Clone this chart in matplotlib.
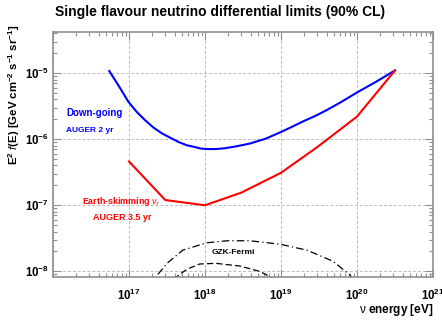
import matplotlib
matplotlib.use('Agg')
import matplotlib.pyplot as plt
from matplotlib.ticker import LogLocator, NullFormatter, FuncFormatter
import numpy as np

plt.rcParams['font.family'] = ['Liberation Sans', 'DejaVu Sans']
plt.rcParams['mathtext.fontset'] = 'custom'
plt.rcParams['mathtext.rm'] = 'Liberation Sans'
plt.rcParams['mathtext.bf'] = 'Liberation Sans:bold'
plt.rcParams['mathtext.it'] = 'Liberation Sans:italic'

# ---- data ----
down_E = [5.5e16, 7.4e16, 9.8e16, 1.26e17, 1.62e17, 2.1e17, 2.7e17, 3.5e17,
          4.47e17, 5.75e17, 7.4e17, 8.9e17, 1.1e18, 1.4e18, 1.82e18, 2.5e18,
          3.2e18, 3.9e18, 6.3e18, 1.02e19, 1.41e19, 1.95e19, 2.8e19, 3.98e19,
          6.3e19, 1.0e20, 1.78e20, 3.16e20]
down_F = [1.08e-5, 6.3e-6, 3.7e-6, 2.6e-6, 1.95e-6, 1.5e-6, 1.23e-6, 1.05e-6,
          9.1e-7, 8.1e-7, 7.6e-7, 7.2e-7, 7.1e-7, 7.1e-7, 7.3e-7, 7.75e-7,
          8.2e-7, 8.6e-7, 1.02e-6, 1.3e-6, 1.55e-6, 1.86e-6, 2.24e-6, 2.75e-6,
          3.7e-6, 5.1e-6, 7.4e-6, 1.1e-5]

skim_E = [1.0e17, 3.0e17, 1.0e18, 3.0e18, 1.0e19, 3.0e19, 1.0e20, 3.16e20]
skim_F = [4.6e-7, 1.2e-7, 1.0e-7, 1.55e-7, 3.1e-7, 7.6e-7, 2.2e-6, 1.1e-5]

gzk1_E = [1.8e17, 2.19e17, 3.16e17, 5.1e17, 1.05e18, 1.95e18, 3.9e18, 9.8e18,
          2.2e19, 4.9e19, 8.1e19, 1.0e20]
gzk1_F = [6.0e-9, 7.9e-9, 1.32e-8, 2.09e-8, 2.7e-8, 2.9e-8, 2.9e-8, 2.57e-8,
          2.09e-8, 1.41e-8, 8.7e-9, 6.5e-9]

gzk2_E = [3.2e17, 4.0e17, 5.75e17, 8.5e17, 1.4e18, 2.9e18, 5.2e18, 7.9e18, 1.0e19]
gzk2_F = [6.0e-9, 7.9e-9, 1.07e-8, 1.29e-8, 1.32e-8, 1.2e-8, 1.0e-8, 7.9e-9, 6.5e-9]

x_range = [1e16, 1e21]
y_range = [8.2e-9, 4.2e-5]
x_label_decades = [17, 18, 19, 20, 21]

W, H = 442, 320
fig = plt.figure(figsize=(W/100, H/100), dpi=100)
ax = fig.add_axes([53/W, 1-277/H, (433-53)/W, (277-32)/H])

ax.set_xscale('log')
ax.set_yscale('log')
ax.set_xlim(*x_range)
ax.set_ylim(*y_range)

ax.plot(down_E, down_F, color='#0000ff', lw=1.5, solid_joinstyle='round')
ax.plot(skim_E, skim_F, color='#ff0000', lw=1.5)
ax.plot(gzk1_E, gzk1_F, color='black', lw=0.9, linestyle=(0, (6, 2.5, 1, 2.5)))
ax.plot(gzk2_E, gzk2_F, color='black', lw=0.9, linestyle=(0, (5, 2.5)))

frame_col = '#909090'
for s in ax.spines.values():
    s.set_color(frame_col)
    s.set_linewidth(1.2)

ax.xaxis.set_major_locator(LogLocator(base=10, numticks=20))
ax.xaxis.set_minor_locator(LogLocator(base=10, subs=np.arange(2, 10), numticks=20))
ax.yaxis.set_major_locator(LogLocator(base=10, numticks=20))
ax.yaxis.set_minor_locator(LogLocator(base=10, subs=np.arange(2, 10), numticks=20))

def fmt_x(v, pos):
    e = int(round(np.log10(v)))
    if e not in x_label_decades:
        return ''
    return r'$\mathbf{10^{%d}}$' % e

def fmt_y(v, pos):
    e = int(round(np.log10(v)))
    return r'$\mathbf{10^{%d}}$' % e

ax.xaxis.set_major_formatter(FuncFormatter(fmt_x))
ax.yaxis.set_major_formatter(FuncFormatter(fmt_y))
ax.xaxis.set_minor_formatter(NullFormatter())
ax.yaxis.set_minor_formatter(NullFormatter())

ax.tick_params(which='both', direction='in', top=True, right=True, color=frame_col,
               labelsize=8.3, width=0.8)
ax.tick_params(which='major', length=6)
ax.tick_params(which='minor', length=3)
ax.tick_params(axis='x', pad=8)
ax.tick_params(axis='y', pad=3)

ax.grid(True, which='major', color='#bbbbbb', linestyle=(0, (3, 2)), lw=0.7)

fig.text(55/W, 1-12/H, 'Single flavour neutrino differential limits (90% CL)',
         fontsize=10, fontweight='bold', ha='left', va='center')

fig.text(14/W, 1-95/H,
         r'E$^{\mathbf{2}}$ $\it{f}$(E) [GeV cm$^{\mathbf{-2}}$ s$^{\mathbf{-1}}$ sr$^{\mathbf{-1}}$]',
         rotation=90, fontsize=8.2, fontweight='bold', ha='center', va='center')

fig.text(433/W, 1-310/H, r'$\mathrm{\nu}$ energy [eV]', fontsize=8.5, fontweight='bold',
         ha='right', va='center')

fig.text(95/W, 1-113/H, 'Down-going', color='#0000ff', fontsize=7, fontweight='bold',
         ha='center', va='center')
fig.text(90/W, 1-131/H, 'AUGER 2 yr', color='#0000ff', fontsize=6, fontweight='bold',
         ha='center', va='center')
fig.text(121/W, 1-201/H, r'Earth-skimming $\nu_{\tau}$', color='#ff0000', fontsize=6.4,
         fontweight='bold', ha='center', va='center')
fig.text(122/W, 1-217/H, 'AUGER 3.5 yr', color='#ff0000', fontsize=6.5, fontweight='bold',
         ha='center', va='center')
fig.text(233/W, 1-253/H, 'GZK-Fermi', color='black', fontsize=6, fontweight='bold',
         ha='center', va='center')

fig.savefig('out.png', dpi=100)
